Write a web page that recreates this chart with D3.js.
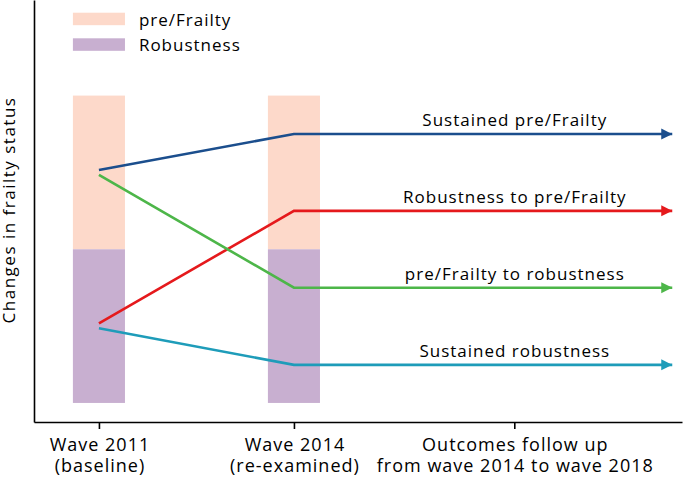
<!DOCTYPE html>
<html>
<head>
<meta charset="utf-8">
<script src="https://cdn.jsdelivr.net/npm/d3@7"></script>
<style>
  html, body { margin: 0; padding: 0; background: #fff; }
  svg { display: block; }
  text { font-family: "Open Sans", Lato, sans-serif; fill: #000; }
</style>
</head>
<body>
<svg id="chart" width="685" height="478"></svg>
<script>
// ---- data ----
const stages = ["Wave 2011|(baseline)", "Wave 2014|(re-examined)", "Outcomes follow up|from wave 2014 to wave 2018"];
const stagePos = [0, 1, 2.13];              // position of each stage along the x axis
const statusNames = ["pre/Frailty", "Robustness"];
const statusLow  = [0.5, 0];                // status band extent (fraction of bar)
const statusHigh = [1, 0.5];
const statusColors = ["#FDD9CA", "#C8AFD0"];
const transitions = ["Sustained pre/Frailty", "Robustness to pre/Frailty", "pre/Frailty to robustness", "Sustained robustness"];
const startLevel = [0.758, 0.259, 0.742, 0.243];   // level at Wave 2011
const endLevel   = [0.875, 0.625, 0.375, 0.124];   // level at Wave 2014 and onward
const transitionColors = ["#1B4E8D", "#E5191C", "#4DB649", "#1E9CB9"];
const arrowEnd = 2.94;
const barStages = [0, 1];

// ---- scales ----
const svg = d3.select("#chart");
const x = d3.scaleLinear().domain([-0.333, 2.99]).range([34, 682]);
const y = d3.scaleLinear().domain([-0.062, 1.311]).range([422, 0]);
const barW = 0.267;

// bars
barStages.forEach(s => {
  statusNames.forEach((n, i) => {
    svg.append("rect")
      .attr("x", x(stagePos[s] - barW / 2))
      .attr("width", x(barW) - x(0))
      .attr("y", y(statusHigh[i]))
      .attr("height", y(statusLow[i]) - y(statusHigh[i]))
      .attr("fill", statusColors[i]);
  });
});

// arrow markers
const defs = svg.append("defs");
transitionColors.forEach((c, i) => {
  defs.append("marker")
    .attr("id", "arr" + i)
    .attr("viewBox", "0 0 10 10")
    .attr("refX", 10).attr("refY", 5)
    .attr("markerWidth", 11).attr("markerHeight", 12)
    .attr("markerUnits", "userSpaceOnUse")
    .attr("orient", "auto")
    .append("path").attr("d", "M0,0 L10,5 L0,10 Z").attr("fill", c);
});

// transition lines
const line = d3.line().x(d => x(d[0])).y(d => y(d[1]));
transitions.forEach((t, i) => {
  const pts = [[stagePos[0], startLevel[i]], [stagePos[1], endLevel[i]], [arrowEnd, endLevel[i]]];
  svg.append("path")
    .attr("d", line(pts))
    .attr("fill", "none")
    .attr("stroke", transitionColors[i])
    .attr("stroke-width", 2.6)
    .attr("marker-end", `url(#arr${i})`);
  svg.append("text")
    .attr("x", x(stagePos[2]) + 0.5)
    .attr("y", y(endLevel[i]) - 8)
    .attr("text-anchor", "middle")
    .style("font-size", "17px")
    .style("letter-spacing", "1px")
    .text(t);
});

// axes
const yAxis = svg.append("g").attr("transform", `translate(${x(-0.333)},0)`)
  .call(d3.axisLeft(y).tickValues([]).tickSizeOuter(0));
yAxis.select(".domain").attr("stroke", "#000").attr("stroke-width", 1.6);

const xAxis = svg.append("g").attr("transform", `translate(0,${y(-0.062)})`)
  .call(d3.axisBottom(x).tickValues(stagePos).tickSize(7).tickSizeOuter(0).tickFormat(""));
xAxis.select(".domain").attr("stroke", "#000").attr("stroke-width", 1.6);
xAxis.selectAll(".tick line").attr("stroke", "#000").attr("stroke-width", 1.6);
xAxis.selectAll(".tick").each(function (d, i) {
  const parts = stages[i].split("|");
  const t = d3.select(this).append("text")
    .attr("text-anchor", "middle")
    .style("font-size", "18px")
    .style("letter-spacing", "1px")
    .attr("fill", "#000");
  parts.forEach((p, k) => {
    t.append("tspan").attr("x", 0.5).attr("y", 28.5 + k * 21.7).text(p);
  });
});

// y label
svg.append("text")
  .attr("transform", `translate(14.5,${210}) rotate(-90)`)
  .attr("text-anchor", "middle")
  .style("font-size", "17px")
  .style("letter-spacing", "1.5px")
  .text("Changes in frailty status");

// legend
statusNames.forEach((n, i) => {
  const g = svg.append("g").attr("transform", `translate(${x(stagePos[0] - barW / 2)},${12.7 + i * 25.6})`);
  g.append("rect").attr("width", x(barW) - x(0)).attr("height", 12.5).attr("fill", statusColors[i]);
  g.append("text").attr("x", 66).attr("y", 13).style("font-size", "17px")
    .style("letter-spacing", "1px").text(n);
});
</script>
</body>
</html>
